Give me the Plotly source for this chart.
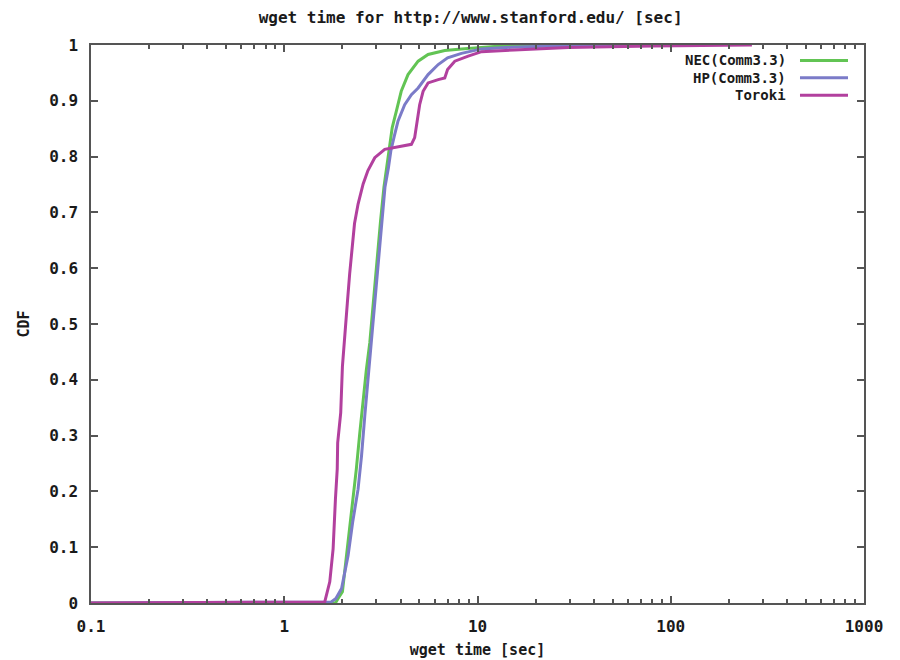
import plotly.graph_objects as go

# wget time CDFs (x in sec, y = CDF)
series_names = ["NEC(Comm3.3)", "HP(Comm3.3)", "Toroki"]
series_colors = ["#62c454", "#7b7bc8", "#b2409e"]

nec_x = [0.1, 1.84, 1.9, 2.0, 2.09, 2.18, 2.26, 2.36, 2.46, 2.56, 2.66, 2.77, 2.91, 3.03,
         3.15, 3.28, 3.40, 3.48, 3.62, 3.80, 4.03, 4.37, 4.93, 5.55, 6.77, 8.26, 10.5,
         13, 30, 100, 105]
nec_y = [0, 0, 0.008, 0.02, 0.079, 0.133, 0.18, 0.24, 0.305, 0.365, 0.418, 0.466, 0.555,
         0.62, 0.685, 0.745, 0.786, 0.816, 0.852, 0.881, 0.917, 0.947, 0.971, 0.983, 0.99,
         0.993, 0.996, 0.998, 0.999, 0.9995, 1.0]

hp_x = [0.1, 1.75, 1.85, 1.98, 2.14, 2.26, 2.41, 2.51, 2.61, 2.71, 2.82, 2.95, 3.07, 3.19,
        3.32, 3.46, 3.56, 3.70, 3.88, 4.20, 4.55, 4.93, 5.55, 6.26, 7.0, 8.26, 9.6, 10.5,
        15, 30, 68]
hp_y = [0, 0.002, 0.008, 0.026, 0.085, 0.145, 0.204, 0.263, 0.335, 0.40, 0.471, 0.555,
        0.62, 0.685, 0.745, 0.78, 0.81, 0.835, 0.864, 0.893, 0.911, 0.923, 0.947, 0.965,
        0.977, 0.985, 0.99, 0.993, 0.996, 0.999, 1.0]

toroki_x = [0.1, 1.62, 1.72, 1.79, 1.84, 1.88, 1.89, 1.96, 2.0, 2.05, 2.12, 2.18, 2.25,
            2.31, 2.41, 2.56, 2.71, 2.94, 3.31, 3.88, 4.55, 4.73, 4.89, 5.02, 5.23, 5.55,
            6.26, 6.77, 7.0, 7.63, 8.95, 10.5, 15.5, 29.5, 80, 160, 263]
toroki_y = [0, 0.002, 0.038, 0.097, 0.186, 0.24, 0.287, 0.341, 0.424, 0.48, 0.537, 0.59,
            0.638, 0.68, 0.715, 0.751, 0.775, 0.798, 0.813, 0.817, 0.822, 0.834, 0.864,
            0.893, 0.917, 0.932, 0.938, 0.941, 0.956, 0.971, 0.98, 0.988, 0.991, 0.9955,
            0.998, 0.999, 1.0]

x_ticks = [0.1, 1, 10, 100, 1000]
x_ticktext = ["0.1", "1", "10", "100", "1000"]
y_ticks = [0, 0.1, 0.2, 0.3, 0.4, 0.5, 0.6, 0.7, 0.8, 0.9, 1]
y_ticktext = ["0", "0.1", "0.2", "0.3", "0.4", "0.5", "0.6", "0.7", "0.8", "0.9", "1"]

FONT = "DejaVu Sans Mono"
AXIS_COLOR = "#555555"
TEXT_COLOR = "#1a1a1a"

# minor ticks 2..9 in each decade
minor_vals = [m * 10 ** e for e in range(-1, 3) for m in range(2, 10)]

fig = go.Figure()
for name, color, xs, ys in zip(series_names, series_colors,
                               [nec_x, hp_x, toroki_x], [nec_y, hp_y, toroki_y]):
    fig.add_trace(go.Scatter(x=xs, y=ys, mode="lines", name=name,
                             line=dict(color=color, width=3), showlegend=False))

# gnuplot style key: text right aligned, sample line after it
for i, (name, color) in enumerate(zip(series_names, series_colors)):
    yk = 0.9724 - i * 0.0312
    fig.add_annotation(x=0.9017, y=yk, xref="paper", yref="paper", text=name,
                       showarrow=False, xanchor="right", yanchor="middle",
                       font=dict(family=FONT, size=14, color=TEXT_COLOR, weight="bold"))
    fig.add_shape(type="line", xref="paper", yref="paper", x0=0.9172, x1=0.9793,
                  y0=yk, y1=yk, line=dict(color=color, width=3))

axis_title_font = dict(family=FONT, size=15, color=TEXT_COLOR, weight="bold")

fig.update_layout(
    width=900, height=660,
    margin=dict(l=83, r=44, t=37, b=57),
    paper_bgcolor="white", plot_bgcolor="white",
    font=dict(family=FONT, size=16, color=TEXT_COLOR, weight="bold"),
    title=dict(text="wget time for http://www.stanford.edu/ [sec]", x=0.514,
               xanchor="center", y=1 - 9 / 660, yanchor="middle",
               font=dict(family=FONT, size=16, weight="bold")),
)
fig.update_xaxes(
    type="log", range=[-1, 3], tickvals=x_ticks, ticktext=x_ticktext,
    ticks="inside", ticklen=7, tickcolor=AXIS_COLOR, tickwidth=1.5,
    minor=dict(tickvals=minor_vals, ticks="inside", ticklen=4,
               tickcolor=AXIS_COLOR, tickwidth=1.5),
    showline=True, linecolor=AXIS_COLOR, linewidth=1.5, mirror="ticks",
    showgrid=False, zeroline=False, ticklabelstandoff=8,
    title=dict(text="wget time [sec]", standoff=10, font=axis_title_font),
)
fig.update_yaxes(
    range=[0, 1], tickvals=y_ticks, ticktext=y_ticktext,
    ticks="inside", ticklen=7, tickcolor=AXIS_COLOR, tickwidth=1.5,
    showline=True, linecolor=AXIS_COLOR, linewidth=1.5, mirror="ticks",
    showgrid=False, zeroline=False, ticklabelstandoff=8,
    title=dict(text="CDF", standoff=16, font=axis_title_font),
)

fig.write_html("out.html")
